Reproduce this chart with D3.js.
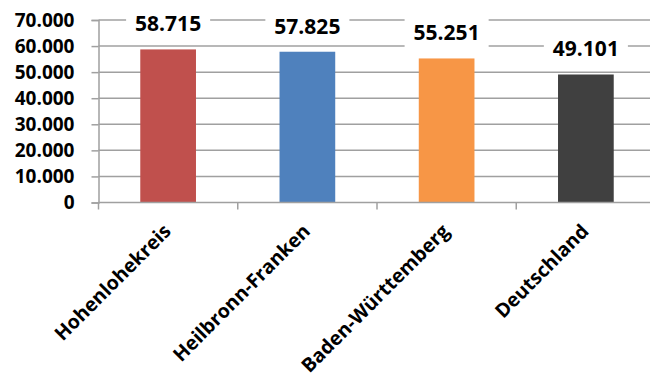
<!DOCTYPE html>
<html><head><meta charset="utf-8">
<script src="https://cdn.jsdelivr.net/npm/d3@7"></script>
<style>body{margin:0;background:#fff;}svg{display:block;}</style>
</head><body>
<script>
const categories = ["Hohenlohekreis", "Heilbronn-Franken", "Baden-Württemberg", "Deutschland"];
const values = [58715, 57825, 55251, 49101];
const valueLabels = ["58.715", "57.825", "55.251", "49.101"];
const colors = ["#C0504D", "#4F81BD", "#F79646", "#404040"];
const yTicks = [0, 10000, 20000, 30000, 40000, 50000, 60000, 70000];
const yTickLabels = ["0", "10.000", "20.000", "30.000", "40.000", "50.000", "60.000", "70.000"];

(function () {
const W = 650, H = 379;
const pl = 98.5, pr = 655.5, pt = 20, pb = 202.5;
const font = "'Open Sans', sans-serif";

const svg = d3.select("body").append("svg").attr("width", W).attr("height", H);

const x = d3.scaleBand().domain(categories).range([pl, pr]).paddingInner(0.6).paddingOuter(0.3);
const y = d3.scaleLinear().domain([0, 70000]).range([pb, pt]);

const grid = "#A0A0A0";

// gridlines
svg.append("g").selectAll("line").data(yTicks.slice(1)).join("line")
  .attr("x1", pl).attr("x2", W).attr("y1", d => y(d)).attr("y2", d => y(d))
  .attr("stroke", grid).attr("stroke-width", 1.5);

// y axis
const yAxis = d3.axisLeft(y).tickValues(yTicks).tickSize(7).tickPadding(17)
  .tickFormat((d, i) => yTickLabels[i]);
const gy = svg.append("g").attr("transform", `translate(${pl},0)`).call(yAxis);
gy.select(".domain").attr("stroke", grid).attr("stroke-width", 1.5);
gy.selectAll(".tick line").attr("stroke", grid).attr("stroke-width", 1.5);
gy.selectAll(".tick text").attr("font-family", font).attr("font-weight", "bold")
  .attr("font-size", "19px").attr("fill", "#000");

// bars
svg.append("g").selectAll("rect").data(values).join("rect")
  .attr("x", (d, i) => x(categories[i])).attr("width", x.bandwidth())
  .attr("y", d => y(d)).attr("height", d => y(0) - y(d))
  .attr("fill", (d, i) => colors[i]);

// x axis
const gx = svg.append("g").attr("transform", `translate(0,${pb})`);
gx.append("line").attr("x1", pl).attr("x2", W).attr("stroke", grid).attr("stroke-width", 1.5);
const step = x.step();
const bounds = categories.map((c, i) => pl + i * step);
gx.selectAll("line.t").data(bounds).join("line").attr("class", "t")
  .attr("x1", d => d).attr("x2", d => d).attr("y1", 0).attr("y2", 7)
  .attr("stroke", grid).attr("stroke-width", 1.5);
gx.selectAll("text").data(categories).join("text")
  .attr("transform", d => `translate(${x(d) + x.bandwidth() / 2 + 4},${30}) rotate(-45)`)
  .attr("text-anchor", "end")
  .attr("font-family", font).attr("font-weight", "bold").attr("font-size", "19.5px")
  .attr("fill", "#000").text(d => d);

// value labels with white boxes
const lg = svg.append("g");
values.forEach((v, i) => {
  const cx = x(categories[i]) + x.bandwidth() / 2;
  const t = lg.append("text").attr("x", cx).attr("y", y(v) - 18)
    .attr("text-anchor", "middle").attr("font-family", font).attr("font-weight", "bold")
    .attr("font-size", "21px").attr("fill", "#000").text(valueLabels[i]);
  const b = t.node().getBBox();
  lg.insert("rect", "text").attr("x", b.x - 9).attr("y", b.y - 4)
    .attr("width", b.width + 18).attr("height", b.height + 8).attr("fill", "#fff");
});
})();
</script>
</body></html>
